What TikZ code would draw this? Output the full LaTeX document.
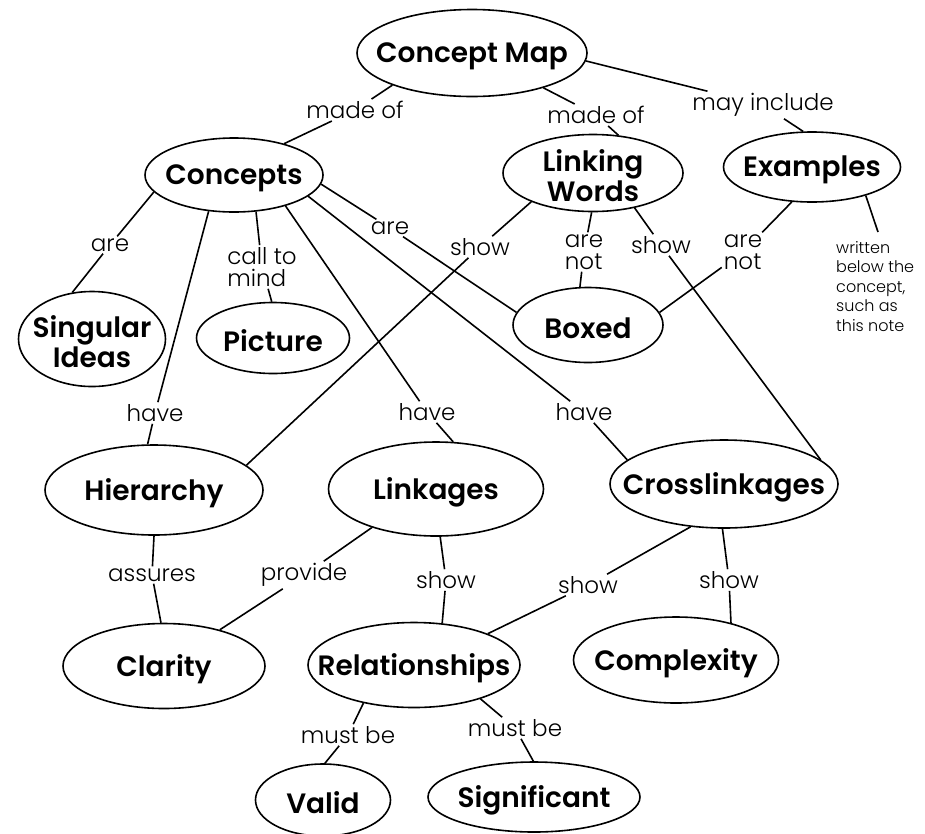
\documentclass[tikz,border=0pt]{standalone}
\usepackage{fontspec}
\setmainfont{Poppins}
\newfontfamily\nodefont{Poppins}[UprightFont=* SemiBold]
\newfontfamily\lblfont{Poppins}[UprightFont=* Light]
\usetikzlibrary{shapes.geometric}
\begin{document}
\begin{tikzpicture}[x=1pt,y=-1pt,
  concept/.style n args={2}{ellipse, draw=black, line width=1.6pt, inner sep=0pt,
     minimum width=#1, minimum height=#2},
  every label/.style={font=\nodefont\fontsize{28}{30}\selectfont, align=center, inner sep=0pt, yshift=-3pt},
  link/.style={font=\lblfont\fontsize{23}{22}\selectfont, inner sep=2pt, align=left},
  conn/.style={line width=1.6pt, draw=black}
]
\useasboundingbox[fill=white] (0,0) rectangle (925,833);

% concepts
\node[concept={230pt}{87pt}, label={center:Concept Map}] (cm) at (472,53) {};
\node[concept={178pt}{74pt}, label={center:Concepts}] (con) at (234,175) {};
\node[concept={180pt}{77pt}, label={center:Linking\\Words}] (lw) at (593,173) {};
\node[concept={177pt}{70pt}, label={center:Examples}] (ex) at (812,167) {};
\node[concept={147pt}{95pt}, label={center:Singular\\Ideas}] (si) at (92,339) {};
\node[concept={153pt}{71pt}, label={center:Picture}] (pic) at (273,338) {};
\node[concept={150pt}{75pt}, label={center:Boxed}] (bx) at (588,325) {};
\node[concept={218pt}{90pt}, label={center:Hierarchy}] (hi) at (154,490) {};
\node[concept={215pt}{94pt}, label={center:Linkages}] (lk) at (436,489) {};
\node[concept={228pt}{88pt}, label={center:Crosslinkages}] (cl) at (724,484) {};
\node[concept={202pt}{85pt}, label={center:Clarity}] (cla) at (164,666) {};
\node[concept={212pt}{85pt}, label={center:Relationships}] (rel) at (414,665) {};
\node[concept={205pt}{86pt}, label={center:Complexity}] (cx) at (676,660) {};
\node[concept={135pt}{72pt}, label={center:Valid}] (va) at (323,800) {};
\node[concept={212pt}{70pt}, label={center:Significant}] (sig) at (534,797) {};

% linking words
\node[link] (l1) at (355,110) {made of};
\node[link] (l2) at (596,115) {made of};
\node[link] (l3) at (763,105) {may include};
\node[link] (l4) at (110,245) {are};
\node[link] (l5) at (262,267) {call to\\mind};
\node[link] (l6) at (155,413) {have};
\node[link] (l7) at (427,412) {have};
\node[link] (l8) at (584,412) {have};
\node[link] (l9) at (390,228) {are};
\node[link] (l10) at (480,247) {show};
\node[link] (l11) at (584,252) {are\\not};
\node[link] (l12) at (661,245) {show};
\node[link] (l13) at (743,252) {are\\not};
\node[link] (l15) at (152,575) {assures};
\node[link] (l16) at (304,575) {provide};
\node[link] (l17) at (446,580) {show};
\node[link] (l18) at (588,585) {show};
\node[link] (l19) at (729,580) {show};
\node[link] (l20) at (348,735) {must be};
\node[link] (l21) at (515,728) {must be};

\node[font=\lblfont\fontsize{16}{19.5}\selectfont, align=left, anchor=north west, inner sep=0pt]
  (note) at (836,241) {written\\below the\\concept,\\such as\\this note};
\coordinate (nt) at (878,232);

% connectors
\draw[conn] (cm.202) -- (l1) -- (con.32);
\draw[conn] (cm.334) -- (l2) -- (lw.56);
\draw[conn] (cm.-4) -- (l3) -- (ex.104);
\draw[conn] (con.192) -- (l4) -- (si.113);
\draw[conn] (con.301) -- (l5) -- (pic.92);
\draw[conn] (con.235) -- (l6) -- (hi.98);
\draw[conn] (con.-31) -- (l7) -- (lk.70);
\draw[conn] (con.-16) -- (l8) -- (cl.166);
\draw[conn] (con.-6) -- (l9) -- (bx.170);
\draw[conn] (lw.205) -- (l10) -- (hi.15);
\draw[conn] (lw.268) -- (l11) -- (bx.102);
\draw[conn] (lw.-40) -- (l12) -- (cl.14);
\draw[conn] (ex.240) -- (l13) -- (bx.10);
\draw[conn] (ex.-28) -- (nt);
\draw[conn] (hi.270) -- (l15) -- (cla.94);
\draw[conn] (lk.211) -- (l16) -- (cla.33);
\draw[conn] (lk.275) -- (l17) -- (rel.56);
\draw[conn] (cl.232) -- (l18) -- (rel.23);
\draw[conn] (cl.268) -- (l19) -- (cx.34);
\draw[conn] (rel.217) -- (l20) -- (va.87);
\draw[conn] (rel.-27) -- (l21) -- (sig.91);
\end{tikzpicture}
\end{document}
